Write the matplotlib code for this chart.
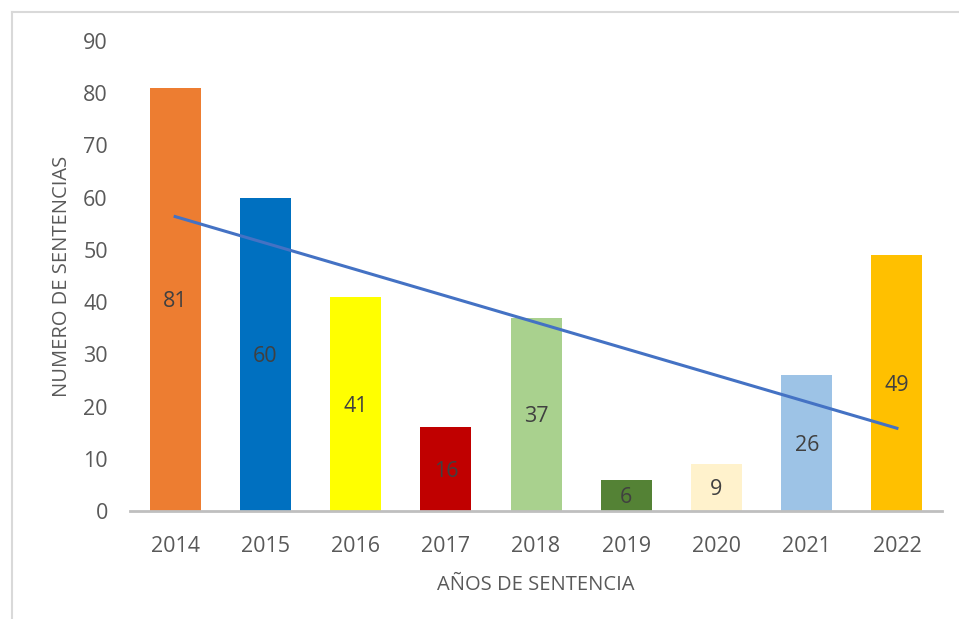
"""Sentencias por año: barras con línea de tendencia lineal."""

import matplotlib
matplotlib.use("Agg")
import matplotlib.pyplot as plt
import numpy as np
from matplotlib.lines import Line2D

plt.rcParams["font.family"] = ["Open Sans", "DejaVu Sans"]

# ---------------------------------------------------------------------------
# Data
# ---------------------------------------------------------------------------
years = ["2014", "2015", "2016", "2017", "2018", "2019", "2020", "2021", "2022"]
counts = [81, 60, 41, 16, 37, 6, 9, 26, 49]
bar_colors = ["#ED7D31", "#0070C0", "#FFFF00", "#C00000", "#A9D18E",
              "#548235", "#FFF2CC", "#9DC3E6", "#FFC000"]

TEXT_DARK = "#404040"
TICK_GREY = "#595959"

fig = plt.figure(figsize=(9.59, 6.19), dpi=100)
ax = fig.add_axes([0.1356, 0.1745, 0.8467, 0.7593])

x = np.arange(len(years))
ax.bar(x, counts, width=0.565, color=bar_colors, zorder=2)

for xi, v in zip(x, counts):
    ax.text(xi, v / 2, str(v), ha="center", va="center_baseline",
            fontsize=15.5, color=TEXT_DARK, zorder=4)

# linear trendline (least squares, like Excel's)
slope, icpt = np.polyfit(x, counts, 1)
ax.plot([x[0], x[-1]], [icpt + slope * x[0], icpt + slope * x[-1]],
        color="#4472C4", linewidth=2.2, zorder=3)

ax.set_xlim(-0.5, len(years) - 0.5)
ax.set_ylim(0, 90)
ax.set_yticks(range(0, 91, 10))
ax.set_xticks(x)
ax.set_xticklabels(years)

for side in ("top", "right", "left"):
    ax.spines[side].set_visible(False)
ax.spines["bottom"].set_color("#BFBFBF")
ax.spines["bottom"].set_linewidth(2)
ax.tick_params(axis="both", length=0, labelsize=15.5, labelcolor=TICK_GREY)
ax.tick_params(axis="x", pad=18)
ax.tick_params(axis="y", pad=16)

ax.set_xlabel("AÑOS DE SENTENCIA", fontsize=14.5, color=TICK_GREY, labelpad=13)
ax.set_ylabel("NUMERO DE SENTENCIAS", fontsize=14.5, color=TICK_GREY, labelpad=8)

# chart-area border (only top and left visible in the crop)
fig.add_artist(Line2D([12 / 959, 12 / 959], [0, 1 - 12 / 619],
                      transform=fig.transFigure, color="#D9D9D9", linewidth=1.5))
fig.add_artist(Line2D([12 / 959, 1], [1 - 12 / 619, 1 - 12 / 619],
                      transform=fig.transFigure, color="#D9D9D9", linewidth=1.5))

fig.savefig("out.png", dpi=100)
plt.close(fig)
